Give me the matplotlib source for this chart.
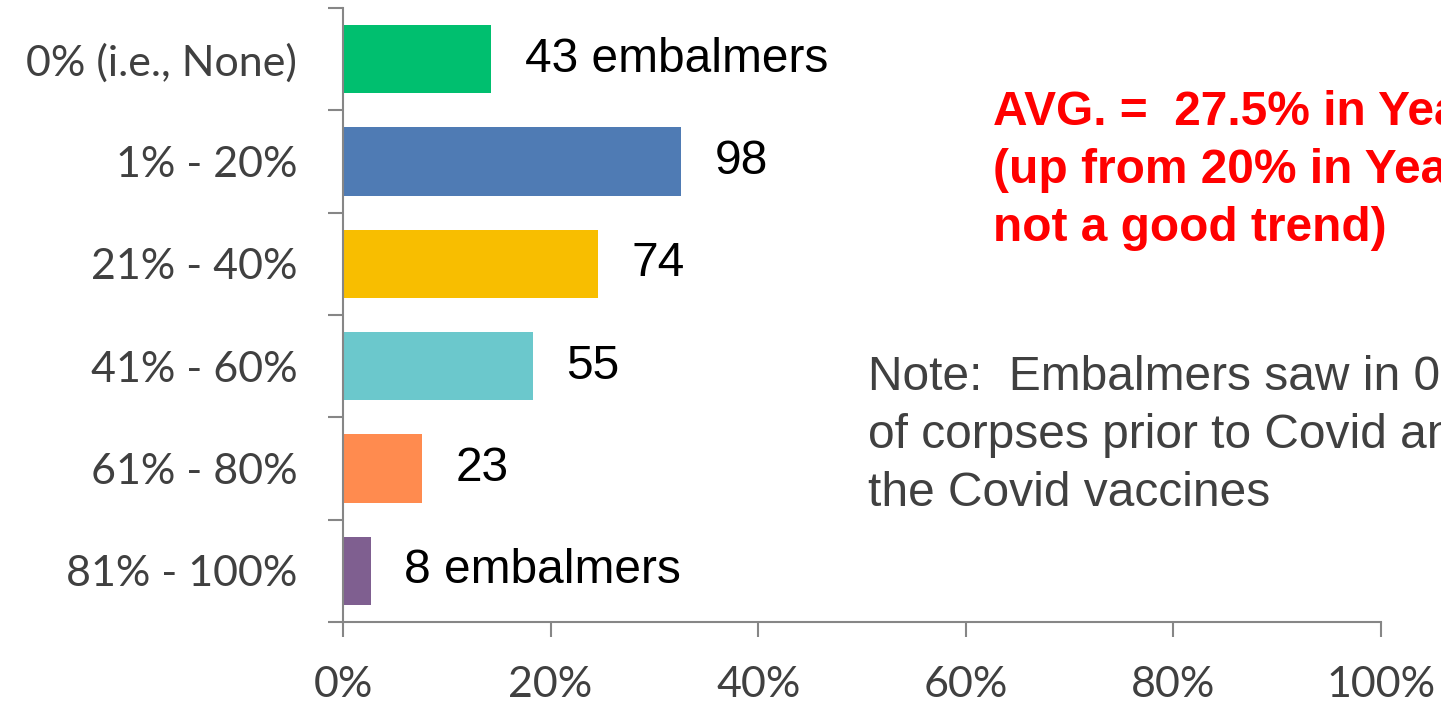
import matplotlib
matplotlib.use("Agg")
import matplotlib.pyplot as plt
from matplotlib.ticker import FixedLocator, PercentFormatter

categories = ["0% (i.e., None)", "1% - 20%", "21% - 40%", "41% - 60%", "61% - 80%", "81% - 100%"]
counts = [43, 98, 74, 55, 23, 8]
bar_labels = ["43 embalmers", "98", "74", "55", "23", "8 embalmers"]
colors = ["#00BF6F", "#4F7BB4", "#F8BE00", "#6BC8CC", "#FF8B4F", "#7F5F90"]
x_ticks = [0, 20, 40, 60, 80, 100]

avg_text = "AVG. =  27.5% in Year 2\n(up from 20% in Year 1 \u2013\nnot a good trend)"
note_text = "Note:  Embalmers saw in 0% - 5%\nof corpses prior to Covid and\nthe Covid vaccines"

total = sum(counts)
pcts = [c / total * 100 for c in counts]

fig = plt.figure(figsize=(14.41, 7.03), dpi=100)
ax = fig.add_axes([343 / 1441, 81 / 703, (1381 - 343) / 1441, (622 - 8) / 703])

ypos = list(range(len(categories)))
ax.barh(ypos, pcts, height=0.665, color=colors)
ax.set_xlim(0, 100)
ax.set_ylim(len(categories) - 0.5, -0.5)

for y, p, lab in zip(ypos, pcts, bar_labels):
    ax.annotate(lab, xy=(p, y), xytext=(24, 0), textcoords="offset points",
                ha="left", va="center", fontsize=34.5, color="black",
                family="Liberation Sans")

spine_col = "#868686"
for s in ["top", "right"]:
    ax.spines[s].set_visible(False)
for s in ["left", "bottom"]:
    ax.spines[s].set_color(spine_col)
    ax.spines[s].set_linewidth(1.5)

ax.set_yticks(ypos)
ax.set_yticklabels(categories)
ax.yaxis.set_minor_locator(FixedLocator([i - 0.5 for i in range(len(categories) + 1)]))
ax.tick_params(axis="y", which="major", length=0, pad=33, labelsize=31, labelcolor="#404040")
ax.tick_params(axis="y", which="minor", length=10.5, width=1.5, color=spine_col)

ax.set_xticks(x_ticks)
ax.xaxis.set_major_formatter(PercentFormatter(decimals=0))
ax.tick_params(axis="x", which="major", length=10.5, width=1.5, color=spine_col,
               pad=21, labelsize=31, labelcolor="#404040")
for t in ax.get_yticklabels() + ax.get_xticklabels():
    t.set_family("Lato")

# va="baseline" on multi-line text aligns the last line's baseline
fig.text(993 / 1441, 1 - 241 / 703, avg_text, ha="left", va="baseline",
         fontsize=34.5, fontweight="bold", color="#FF0000", family="Liberation Sans",
         linespacing=1.37)
fig.text(868 / 1441, 1 - 506 / 703, note_text, ha="left", va="baseline",
         fontsize=34.5, color="#404040", family="Liberation Sans", linespacing=1.37)

fig.savefig("out.png", dpi=100)
